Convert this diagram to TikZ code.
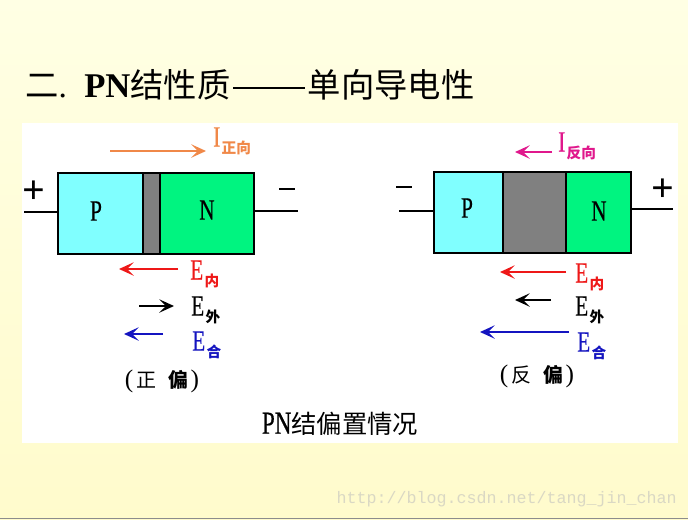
\documentclass[tikz,border=0pt]{standalone}
\usepackage{fontspec}
\usepackage{tikz}
\usetikzlibrary{arrows.meta}
\setmainfont{Liberation Serif}
\newfontfamily\cjk{Noto Sans CJK SC}
\newfontfamily\narrowfont[FakeStretch=0.72,FakeBold=0.5]{Liberation Serif}
\definecolor{bgtop}{HTML}{FFFFE4}
\definecolor{bgbottom}{HTML}{FFFBCC}
\definecolor{pcolor}{HTML}{80FFFF}
\definecolor{ncolor}{HTML}{00F480}
\definecolor{icolor}{HTML}{F08848}
\definecolor{rcolor}{HTML}{E0188C}
\definecolor{ered}{HTML}{EE1818}
\definecolor{eblue}{HTML}{1414C0}
\definecolor{wmark}{HTML}{DAD8C4}
% подпись: буква и индекс
\newcommand{\fieldlabel}[2]{{\narrowfont\fontsize{22}{22}\selectfont #1}\hspace{1pt}\raisebox{-5pt}{\cjk\bfseries\fontsize{11}{11}\selectfont #2}}
% подпись смещения в скобках
\newcommand{\biaslabel}[1]{{\fontsize{19}{19}\selectfont (}\hspace{2pt}{\cjk\fontsize{15}{15}\selectfont #1\hspace{9pt}\textbf{偏}}\hspace{2pt}{\fontsize{19}{19}\selectfont )}}
\tikzset{
    region/.style={draw=black, line width=1.8pt, inner sep=0pt, outer sep=0pt, minimum height=61pt},
    regionlabel/.style={font=\narrowfont\fontsize{22}{22}\selectfont},
    lead/.style={line width=1.8pt},
    signlabel/.style={font=\bfseries\fontsize{30}{30}\selectfont, inner sep=0pt},
    fieldarrow/.style={line width=1.8pt, -{Stealth[length=11pt,width=10pt,inset=5pt]}},
    field/.style={anchor=west, inner sep=0pt}
}
\begin{document}
\begin{tikzpicture}[x=0.75pt, y=-0.75pt]
    \useasboundingbox (0,0) rectangle (688,519);

    % Фон
    \shade[top color=bgtop, bottom color=bgbottom] (0,0) rectangle (688,519);
    \fill[white] (22,123) rectangle (678,443);
    \fill[black!45] (0,517.5) rectangle (688,519);

    % Заголовок
    \node[anchor=west, inner sep=0pt] (title) at (25,85) {\fontsize{25}{25}\selectfont{\cjk 二}.\hspace{13pt}{\fontsize{26}{26}\selectfont\textbf{PN}}{\cjk 结性质}\hspace{2pt}\rule[6.5pt]{54pt}{1.5pt}\hspace{2pt}{\cjk 单向导电性}};

    % Левый диод
    \node[region, fill=pcolor, minimum width=64pt] (pleft) at (100.5,213.5) {};
    \node[region, fill=black!50, minimum width=12.75pt] (gapleft) at (151.5,213.5) {};
    \node[region, fill=ncolor, minimum width=70.5pt] (nleft) at (207,213.5) {};
    \node[regionlabel] (ptextleft) at (96,211) {P};
    \node[regionlabel] (ntextleft) at (207,210) {N};
    \coordinate (aleft) at (24,212);
    \coordinate (cleft) at (298,211);
    \draw[lead] (aleft) -- (pleft.west |- aleft);
    \draw[lead] (nleft.east |- cleft) -- (cleft);
    \node[signlabel] (plusleft) at (34,192) {+};
    \node[signlabel] (minusleft) at (287,189) {\rule{12pt}{2pt}};

    % Правый диод
    \node[region, fill=pcolor, minimum width=51.75pt] (pright) at (468.5,212.5) {};
    \node[region, fill=black!50, minimum width=47.25pt] (gapright) at (534.5,212.5) {};
    \node[region, fill=ncolor, minimum width=48.75pt] (nright) at (598.5,212.5) {};
    \node[regionlabel] (ptextright) at (467,208) {P};
    \node[regionlabel] (ntextright) at (599,211) {N};
    \coordinate (aright) at (399,211);
    \coordinate (cright) at (673,209);
    \draw[lead] (aright) -- (pright.west |- aright);
    \draw[lead] (nright.east |- cright) -- (cright);
    \node[signlabel] (minusright) at (404,187) {\rule{12pt}{2pt}};
    \node[signlabel] (plusright) at (663,190) {+};

    % Стрелки и подписи
    \foreach \name/\xa/\ya/\xb/\yb/\col/\xt/\yt/\sym/\sub in {
        ifwd/110/151/206/151/icolor/213/141/I/正向,
        einl/178/269/119/269/ered/190/274/E/内,
        eoutl/139/306/174/306/black/191/310/E/外,
        esuml/163/334/124/334/eblue/192/345/E/合,
        irev/552/152/515/152/rcolor/558/146/I/反向,
        einr/566/272/500/272/ered/575/277/E/内,
        eoutr/551/300/515/300/black/575/310/E/外,
        esumr/569/332/480/332/eblue/577/346/E/合}
    {
        \coordinate (\name a) at (\xa,\ya);
        \coordinate (\name b) at (\xb,\yb);
        \draw[fieldarrow, \col] (\name a) -- (\name b);
        \node[field, text=\col] (\name text) at (\xt,\yt) {\fieldlabel{\sym}{\sub}};
    }

    % Подписи внизу
    \node[inner sep=0pt] (biasleft) at (162,381) {\biaslabel{正}};
    \node[inner sep=0pt] (biasright) at (537,376) {\biaslabel{反}};
    \node[inner sep=0pt] (caption) at (340,424) {{\narrowfont\fontsize{24}{24}\selectfont PN}{\cjk\fontsize{19}{19}\selectfont 结偏置情况}};
    \node[anchor=east, inner sep=0pt, text=wmark] (mark) at (677,499) {\fontspec{Liberation Mono}\fontsize{12.5}{12.5}\selectfont http://blog.csdn.net/tang\_jin\_chan};
\end{tikzpicture}
\end{document}
